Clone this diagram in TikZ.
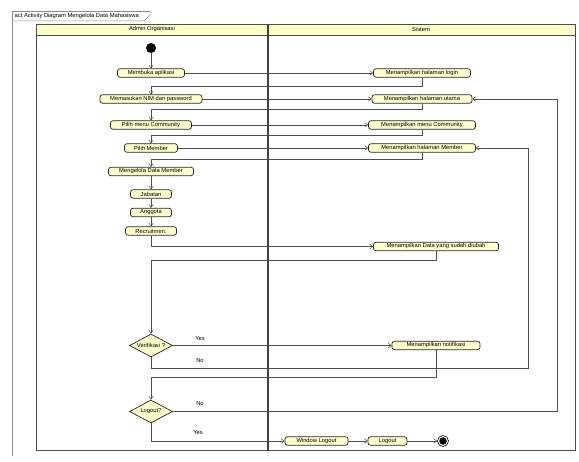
\documentclass[tikz,border=0pt]{standalone}
\usepackage{fontspec}
\setmainfont{Liberation Sans}
\usetikzlibrary{arrows.meta,shapes.geometric}
\definecolor{actfill}{RGB}{255,255,204}
\definecolor{lanefill}{RGB}{255,255,204}
\definecolor{linecol}{RGB}{80,80,80}
\tikzset{
  act/.style={draw=black!85, line width=0.7pt, rounded corners=2.5pt, fill=actfill,
    minimum height=8.5pt, inner sep=0.8pt, font=\fontsize{5.8}{6}\selectfont},
  dec/.style={draw=black!85, line width=0.7pt, diamond, aspect=1.9, fill=actfill,
    minimum width=43pt, minimum height=23pt, inner sep=0pt, font=\fontsize{5.8}{6}\selectfont},
  flow/.style={draw=linecol, line width=0.5pt, -{Straight Barb[length=3pt,width=4.5pt]}},
  lbl/.style={font=\fontsize{5.8}{6}\selectfont, inner sep=0.5pt},
  lanebox/.style={draw=black!70, line width=0.9pt},
  lanehead/.style={draw=black!70, line width=0.9pt, fill=lanefill},
}
\begin{document}
\begin{tikzpicture}[x=1pt,y=-1pt]
\useasboundingbox (0,0) rectangle (579,462);
% frame
\draw[black!45, line width=0.5pt] (12,456) -- (12,11) -- (150,11);
\draw[black!45, line width=0.5pt] (12,21) -- (144,21) -- (150,15) -- (150,11);
\node[lbl, anchor=west] (title) at (14,16) {act Activity Diagram Mengelola Data Mahasiswa};
% lanes
\draw[lanehead] (36,24) rectangle (268,35);
\draw[lanehead] (268,24) rectangle (575,35);
\node[lbl] (lane1) at (152,29.5) {Admin Organisasi};
\node[lbl] (lane2) at (421,29.5) {Sistem};
\draw[lanebox] (36,35) rectangle (268,450);
\draw[lanebox] (268,35) rectangle (575,450);
\draw[black!75, line width=1.4pt] (268,24) -- (268,450);
% start
\node[circle, fill=black, minimum size=10pt, inner sep=0pt] (start) at (151,48) {};
% left lane actions
\node[act, minimum width=67pt] (a1) at (151,73) {Membuka aplikasi};
\node[act, minimum width=102pt] (a2) at (151,99) {Memasukan NIM dan password};
\node[act, minimum width=81pt] (a3) at (151,125) {Pilih menu Community};
\node[act, minimum width=53pt] (a4) at (151,148) {Pilih Member};
\node[act, minimum width=85pt] (a5) at (151,171.5) {Mengelola Data Member};
\node[act, minimum width=41pt] (a6) at (151,194) {Jabatan};
\node[act, minimum width=41pt] (a7) at (151,212.5) {Anggota};
\node[act, minimum width=51pt] (a8) at (151,231) {Recruitmen.};
\node[dec] (d1) at (151,345.5) {Verifikasi ?};
\node[dec] (d2) at (151,411.5) {Logout?};
% right lane actions
\node[act, minimum width=97pt] (s1) at (422,73) {Menampilkan halaman login};
\node[act, minimum width=100pt] (s2) at (422,99) {Menampilkan halaman utama};
\node[act, minimum width=107pt] (s3) at (422,125) {Menampilkan menu Community};
\node[act, minimum width=107pt] (s4) at (422,148) {Menampilkan halaman Member};
\node[act, minimum width=125pt] (s5) at (436,246.5) {Menampilkan Data yang sudah diubah};
\node[act, minimum width=88pt] (s6) at (436,345.5) {Menampilkan notifikasi};
\node[act, minimum width=63pt] (b1) at (316.5,441) {Window Logout};
\node[act, minimum width=39pt] (b2) at (387.5,441) {Logout};
% end
\node[circle, draw=black, line width=0.6pt, minimum size=11pt, inner sep=0pt] (fin) at (443,441) {};
\node[circle, fill=black, minimum size=7.5pt, inner sep=0pt] (fincore) at (fin) {};
% coordinates for loops
\coordinate (r1) at (528,368);
\coordinate (r2) at (557,411.5);
% connectors
\draw[flow] (start) -- (a1);
\draw[flow] (a1.east) -- (s1.west);
\draw[flow] (s1.south) -- ++(0,9) -| (a2.north);
\draw[flow] (a2.east) -- (s2.west);
\draw[flow] (s2.south) -- ++(0,6) -| (a3.north);
\draw[flow] (a3.east) -- (s3.west);
\draw[flow] (s3.south) -- ++(0,6) -| (a4.north);
\draw[flow] (a4.east) -- (s4.west);
\draw[flow] (s4.south) -- ++(0,7) -| (a5.north);
\draw[flow] (a5) -- (a6);
\draw[flow] (a6) -- (a7);
\draw[flow] (a7) -- (a8);
\draw[flow] (a8.south) |- (s5.west);
\draw[flow] (s5.south) -- ++(0,9) -| (d1.north);
\draw[flow] (d1.east) -- (s6.west);
\node[lbl] (yes1) at (200,339) {Yes};
\draw[flow] (d1.south) |- (r1) |- (s4.east);
\node[lbl] (no1) at (200,361) {No};
\draw[flow] (s6.south) -- ++(0,27) -| (d2.north);
\draw[flow] (d2.east) -- (r2) |- (s2.east);
\node[lbl] (no2) at (200,404) {No};
\draw[flow] (d2.south) |- (b1.west);
\node[lbl] (yes2) at (198,433) {Yes};
\draw[flow] (b1.east) -- (b2.west);
\draw[flow] (b2.east) -- (fin.west);
\end{tikzpicture}
\end{document}
